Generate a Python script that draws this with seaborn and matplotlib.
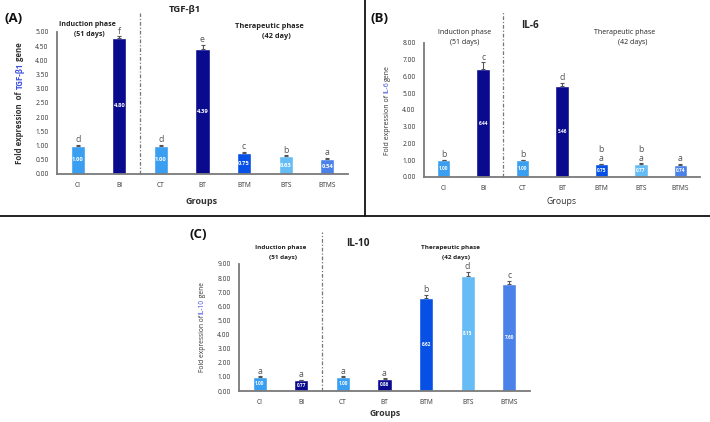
import matplotlib
matplotlib.use("Agg")
import matplotlib.pyplot as plt
import seaborn as sns
import pandas as pd
import numpy as np
from matplotlib.lines import Line2D

# ---------------- data ----------------
groups = ["CI", "BI", "CT", "BT", "BTM", "BTS", "BTMS"]

tgf_vals = [1.00, 4.80, 1.00, 4.39, 0.75, 0.63, 0.54]
tgf_err = [0.02, 0.05, 0.02, 0.15, 0.03, 0.03, 0.02]
tgf_letters = ["d", "f", "d", "e", "c", "b", "a"]
tgf_labels = ["1.00", "4.80", "1.00", "4.39", "0.75", "0.63", "0.54"]

il6_vals = [1.00, 6.44, 1.00, 5.46, 0.75, 0.77, 0.74]
il6_err = [0.03, 0.40, 0.03, 0.15, 0.05, 0.04, 0.03]
il6_letters = ["b", "c", "b", "d", "b\na", "b\na", "a"]
il6_labels = ["1.00", "6.44", "1.00", "5.46", "0.75", "0.77", "0.74"]

il10_vals = [1.00, 0.77, 1.00, 0.86, 6.62, 8.15, 7.60]
il10_err = [0.03, 0.03, 0.03, 0.05, 0.20, 0.30, 0.20]
il10_letters = ["a", "a", "a", "a", "b", "d", "c"]
il10_labels = ["1.00", "0.77", "1.00", "0.86", "6.62", "8.15", "7.60"]

bar_colors = ["#3a9ff0", "#0a0a8e", "#3a9ff0", "#0a0a8e", "#0650e6", "#66bdf5", "#4b82ea"]

sns.set_theme(style="white")
plt.rcParams["font.family"] = ["Open Sans", "DejaVu Sans"]

W, H = 710, 422
fig = plt.figure(figsize=(7.10, 4.22), dpi=100)
fig.patch.set_facecolor("white")


def px(x, y):
    return x / W, 1 - y / H


def ftext(x, y, s, **kw):
    fx, fy = px(x, y)
    kw.setdefault("ha", "center")
    kw.setdefault("va", "center")
    fig.text(fx, fy, s, **kw)


def vertical_rainbow(x, yc, parts, size, weight):
    renderer = fig.canvas.get_renderer()
    fx, _ = px(x, yc)
    objs = []
    for s, c in parts:
        t = fig.text(fx, 0, s, rotation=90, color=c, fontsize=size, fontweight=weight,
                     ha="center", va="bottom")
        objs.append(t)
    heights = [o.get_window_extent(renderer).height for o in objs]
    total = sum(heights)
    cur = (H - yc) - total / 2
    for o, h in zip(objs, heights):
        o.set_position((fx, cur / H))
        cur += h


def panel(rect, vals, errs, letters, labels, ymax, step, sep_top, label_fs=4.0):
    ax = fig.add_axes(rect)
    df = pd.DataFrame({"group": groups, "value": vals})
    sns.barplot(data=df, x="group", y="value", hue="group", palette=bar_colors,
                legend=False, width=0.34, ax=ax, errorbar=None, saturation=1)
    xs = np.arange(len(groups))
    ax.errorbar(xs, vals, yerr=[np.zeros(len(vals)), errs], fmt="none",
                ecolor="#555555", elinewidth=0.8, capsize=1.6, capthick=0.8)
    for xi, v, e, l, lab in zip(xs, vals, errs, letters, labels):
        ax.text(xi, v + e + ymax * 0.005, l, ha="center", va="bottom", fontsize=6.3,
                color="#555555", linespacing=0.95)
        ax.text(xi, v / 2, lab, ha="center", va="center", fontsize=label_fs,
                color="white", fontweight="bold")
    ax.set_xlim(-0.5, 6.5)
    ax.set_ylim(0, ymax)
    ticks = np.arange(0, ymax + step / 2, step)
    ax.set_yticks(ticks)
    ax.set_yticklabels([f"{t:.2f}" for t in ticks])
    ax.tick_params(axis="both", length=0, labelsize=4.8, pad=6, colors="#333333")
    ax.set_xlabel("")
    ax.set_ylabel("")
    ax.set_facecolor("white")
    for s in ["top", "right"]:
        ax.spines[s].set_visible(False)
    for s in ["left", "bottom"]:
        ax.spines[s].set_color("#7a7a7a")
        ax.spines[s].set_linewidth(1.3)
    ax.plot([1.5, 1.5], [0, sep_top], color="#777777", lw=0.9,
            linestyle=(0, (3, 1.5, 1, 1.5)), clip_on=False)
    return ax


# Panel A
axA = panel([57 / W, 1 - 174 / H, (348 - 57) / W, (174 - 32) / H],
            tgf_vals, tgf_err, tgf_letters, tgf_labels, 5.0, 0.5, 5.67, label_fs=4.2)
# Panel B
axB = panel([424 / W, 1 - 177 / H, (700 - 424) / W, (177 - 43) / H],
            il6_vals, il6_err, il6_letters, il6_labels, 8.0, 1.0, 9.85, label_fs=3.4)
# Panel C
axC = panel([239 / W, 1 - 391 / H, (530 - 239) / W, (391 - 264) / H],
            il10_vals, il10_err, il10_letters, il10_labels, 9.0, 1.0, 11.3, label_fs=3.4)

# ---- texts panel A ----
ftext(14, 18, "(A)", fontsize=9.5, fontweight="bold", color="#111111")
ftext(185, 10, "TGF-β1", fontsize=6.8, fontweight="bold", color="#222222")
ftext(87, 24, "Induction phase", fontsize=5.0, fontweight="bold", color="#222222")
ftext(89, 34, "(51 days)", fontsize=5.0, fontweight="bold", color="#222222")
ftext(269, 27, "Therapeutic phase", fontsize=5.3, fontweight="bold", color="#222222")
ftext(276, 37, "(42 day)", fontsize=5.3, fontweight="bold", color="#222222")
ftext(202, 202, "Groups", fontsize=6.5, fontweight="bold", color="#333333")

# ---- texts panel B ----
ftext(380, 18, "(B)", fontsize=9.5, fontweight="bold", color="#111111")
ftext(530, 25, "IL-6", fontsize=7.2, fontweight="bold", color="#222222")
ftext(465, 32, "Induction phase", fontsize=5, color="#222222")
ftext(465, 42, "(51 days)", fontsize=5, color="#222222")
ftext(625, 32, "Therapeutic phase", fontsize=5, color="#222222")
ftext(633, 42, "(42 days)", fontsize=5, color="#222222")
ftext(562, 201, "Groups", fontsize=6.3, color="#333333")

# ---- texts panel C ----
ftext(198, 235, "(C)", fontsize=9.5, fontweight="bold", color="#111111")
ftext(358, 244, "IL-10", fontsize=7.2, fontweight="bold", color="#222222")
ftext(281, 248, "Induction phase", fontsize=4.6, fontweight="bold", color="#222222")
ftext(283, 258, "(51 days)", fontsize=4.6, fontweight="bold", color="#222222")
ftext(450, 248, "Therapeutic phase", fontsize=4.6, fontweight="bold", color="#222222")
ftext(456, 258, "(42 days)", fontsize=4.6, fontweight="bold", color="#222222")
ftext(385, 414, "Groups", fontsize=6.3, fontweight="bold", color="#333333")

# ---- y labels ----
blue = "#3a4ee0"
vertical_rainbow(20, 103, [("Fold expression  of ", "#333333"), ("TGF-β1", blue), (" gene", "#333333")],
                 5.6, "bold")
vertical_rainbow(387, 110, [("Fold expression of ", "#333333"), ("IL-6", blue), ("gene", "#333333")],
                 5.0, "normal")
vertical_rainbow(202, 327, [("Fold expression of ", "#333333"), ("IL-10", blue), (" gene", "#333333")],
                 4.8, "normal")

# ---- panel dividers ----
fig.add_artist(Line2D([365 / W, 365 / W], [1, 1 - 216 / H], color="#111111", lw=1.3,
                      transform=fig.transFigure))
fig.add_artist(Line2D([0, 1], [1 - 216 / H, 1 - 216 / H], color="#111111", lw=1.3,
                      transform=fig.transFigure))

fig.savefig("out.png", dpi=100, facecolor="white")
